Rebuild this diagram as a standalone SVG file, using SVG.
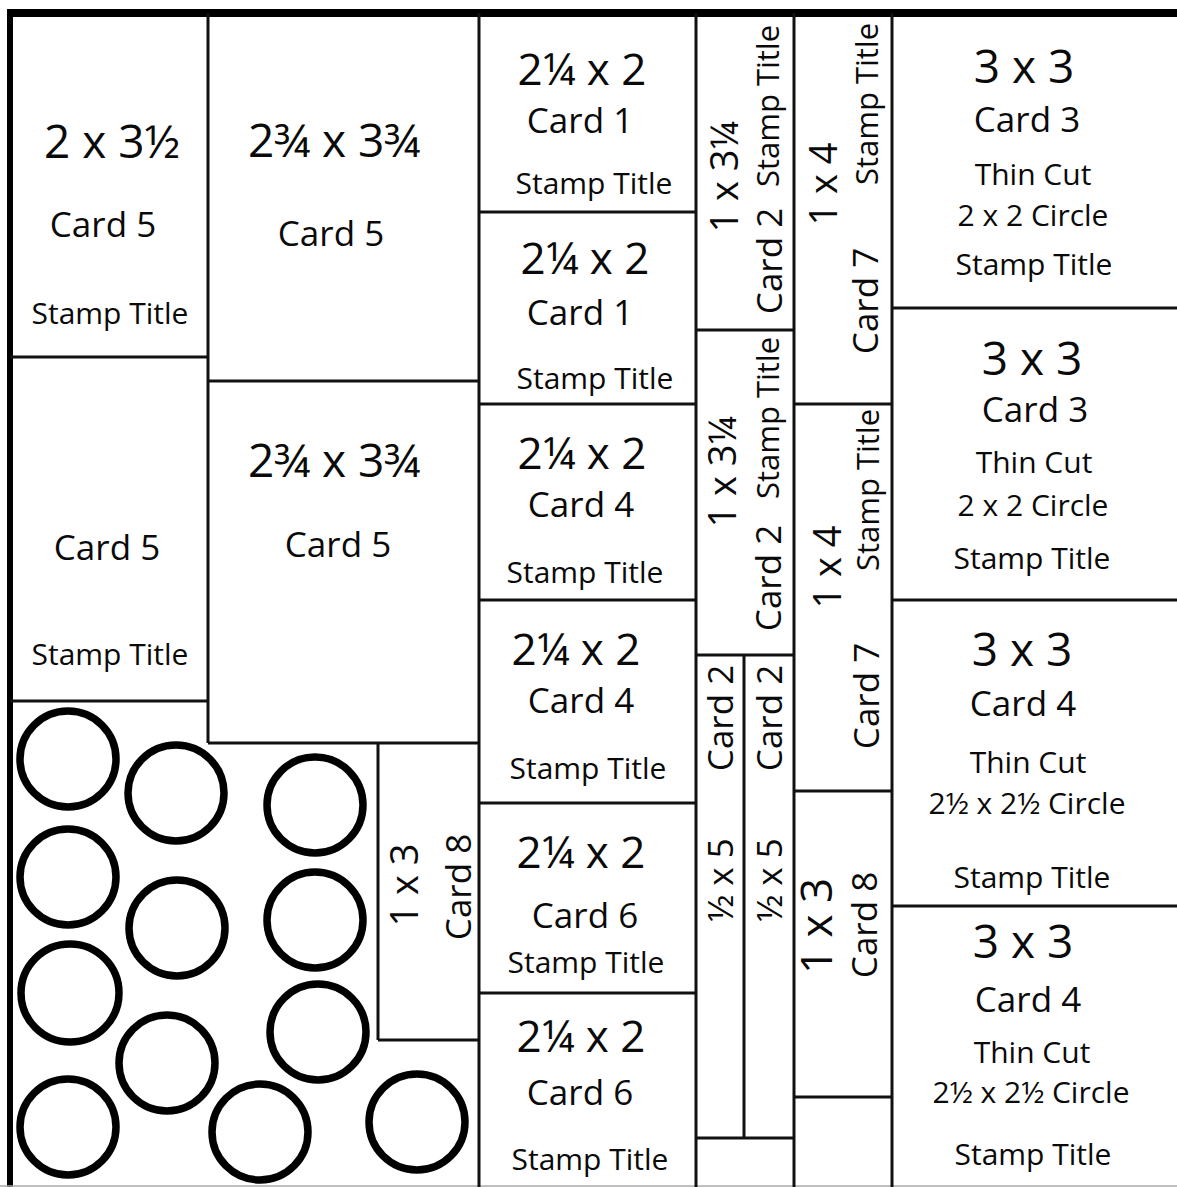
<svg xmlns="http://www.w3.org/2000/svg" width="1177" height="1187" viewBox="0 0 1177 1187">
<style>
  .ln{stroke:#111;stroke-width:3;fill:none}
  .ring{stroke:#000;stroke-width:7.5;fill:none}
  text{font-family:"Open Sans","Noto Sans",sans-serif;fill:#0a0a0a;text-anchor:middle}
  .big{font-size:46px}
  .med{font-size:44px}
  .mid{font-size:35px}
  .sm{font-size:30px}
  .rn{font-size:38px}
  .rs{font-size:31px}
</style>
<rect x="0" y="0" width="1177" height="1187" fill="#fff"/>
<g id="cut-lines">
  <rect x="7" y="9" width="1170" height="8" fill="#000"/>
  <rect x="7" y="9" width="6" height="1178" fill="#000"/>
  <line x1="0" y1="1186" x2="1177" y2="1186" stroke="#aaa" stroke-width="1.5"/>
  <line class="ln" x1="208" y1="13" x2="208" y2="743"/>
  <line class="ln" x1="479" y1="13" x2="479" y2="1187"/>
  <line class="ln" x1="378" y1="743" x2="378" y2="1040"/>
  <line class="ln" x1="696" y1="13" x2="696" y2="1187"/>
  <line class="ln" x1="744" y1="655" x2="744" y2="1138"/>
  <line class="ln" x1="794" y1="13" x2="794" y2="1187"/>
  <line class="ln" x1="892" y1="13" x2="892" y2="1187"/>
  <line class="ln" x1="10" y1="357" x2="208" y2="357"/>
  <line class="ln" x1="10" y1="701" x2="208" y2="701"/>
  <line class="ln" x1="208" y1="381" x2="479" y2="381"/>
  <line class="ln" x1="208" y1="743" x2="479" y2="743"/>
  <line class="ln" x1="378" y1="1040" x2="479" y2="1040"/>
  <line class="ln" x1="479" y1="212" x2="696" y2="212"/>
  <line class="ln" x1="479" y1="404" x2="696" y2="404"/>
  <line class="ln" x1="479" y1="600" x2="696" y2="600"/>
  <line class="ln" x1="479" y1="803" x2="696" y2="803"/>
  <line class="ln" x1="479" y1="993" x2="696" y2="993"/>
  <line class="ln" x1="696" y1="330" x2="794" y2="330"/>
  <line class="ln" x1="696" y1="655" x2="794" y2="655"/>
  <line class="ln" x1="696" y1="1138" x2="794" y2="1138"/>
  <line class="ln" x1="794" y1="404" x2="892" y2="404"/>
  <line class="ln" x1="794" y1="791" x2="892" y2="791"/>
  <line class="ln" x1="794" y1="1097" x2="892" y2="1097"/>
  <line class="ln" x1="892" y1="308" x2="1177" y2="308"/>
  <line class="ln" x1="892" y1="600" x2="1177" y2="600"/>
  <line class="ln" x1="892" y1="906" x2="1177" y2="906"/>
</g>
<g id="circles">
  <circle class="ring" cx="68" cy="759" r="48"/>
  <circle class="ring" cx="176" cy="793" r="48"/>
  <circle class="ring" cx="315" cy="805" r="48"/>
  <circle class="ring" cx="68" cy="877" r="48"/>
  <circle class="ring" cx="177" cy="928" r="48"/>
  <circle class="ring" cx="315" cy="920" r="48"/>
  <circle class="ring" cx="70" cy="993" r="49"/>
  <circle class="ring" cx="167" cy="1063" r="48"/>
  <circle class="ring" cx="318" cy="1032" r="48"/>
  <circle class="ring" cx="68" cy="1127" r="48"/>
  <circle class="ring" cx="260" cy="1132" r="48"/>
  <circle class="ring" cx="417" cy="1122" r="48"/>
</g>
<g id="card5-2x3half">
  <text class="big" x="112" y="158">2 x 3½</text>
  <text class="mid" x="103" y="237">Card 5</text>
  <text class="sm" x="110" y="324">Stamp Title</text>
</g>
<g id="card5-b">
  <text class="mid" x="107" y="560">Card 5</text>
  <text class="sm" x="110" y="665">Stamp Title</text>
</g>
<g id="card5-2x3q-a">
  <text class="big" x="334" y="157">2¾ x 3¾</text>
  <text class="mid" x="331" y="246">Card 5</text>
</g>
<g id="card5-2x3q-b">
  <text class="big" x="334" y="477">2¾ x 3¾</text>
  <text class="mid" x="338" y="557">Card 5</text>
</g>
<g id="card8-1x3-a">
  <text class="rn" transform="translate(418,885) rotate(-90)">1 x 3</text>
  <text class="mid" transform="translate(471,887) rotate(-90)">Card 8</text>
</g>
<g id="card1-a">
  <text class="med" x="582" y="85">2¼ x 2</text>
  <text class="mid" x="580" y="133">Card 1</text>
  <text class="sm" x="594" y="194">Stamp Title</text>
</g>
<g id="card1-b">
  <text class="med" x="585" y="274">2¼ x 2</text>
  <text class="mid" x="580" y="325">Card 1</text>
  <text class="sm" x="595" y="389">Stamp Title</text>
</g>
<g id="card4-a">
  <text class="med" x="582" y="469">2¼ x 2</text>
  <text class="mid" x="581" y="517">Card 4</text>
  <text class="sm" x="585" y="583">Stamp Title</text>
</g>
<g id="card4-b">
  <text class="med" x="576" y="665">2¼ x 2</text>
  <text class="mid" x="581" y="713">Card 4</text>
  <text class="sm" x="588" y="779">Stamp Title</text>
</g>
<g id="card6-a">
  <text class="med" x="581" y="868">2¼ x 2</text>
  <text class="mid" x="585" y="928">Card 6</text>
  <text class="sm" x="586" y="973">Stamp Title</text>
</g>
<g id="card6-b">
  <text class="med" x="581" y="1052">2¼ x 2</text>
  <text class="mid" x="580" y="1105">Card 6</text>
  <text class="sm" x="590" y="1170">Stamp Title</text>
</g>
<g id="card2-1x3q-a">
  <text class="rn" transform="translate(738,177) rotate(-90)">1 x 3¼</text>
  <text class="rs" transform="translate(779,106) rotate(-90)">Stamp Title</text>
  <text class="mid" transform="translate(782,261) rotate(-90)">Card 2</text>
</g>
<g id="card2-1x3q-b">
  <text class="rn" transform="translate(736,472) rotate(-90)">1 x 3¼</text>
  <text class="rs" transform="translate(779,418) rotate(-90)">Stamp Title</text>
  <text class="mid" transform="translate(781,578) rotate(-90)">Card 2</text>
</g>
<g id="card2-half-a">
  <text class="mid" transform="translate(733,718) rotate(-90)">Card 2</text>
  <text class="mid" transform="translate(733,880) rotate(-90)">½ x 5</text>
</g>
<g id="card2-half-b">
  <text class="mid" transform="translate(782,718) rotate(-90)">Card 2</text>
  <text class="mid" transform="translate(782,880) rotate(-90)">½ x 5</text>
</g>
<g id="card7-a">
  <text class="rn" transform="translate(837,184) rotate(-90)">1 x 4</text>
  <text class="rs" transform="translate(878,104) rotate(-90)">Stamp Title</text>
  <text class="mid" transform="translate(878,301) rotate(-90)">Card 7</text>
</g>
<g id="card7-b">
  <text class="rn" transform="translate(841,567) rotate(-90)">1 x 4</text>
  <text class="rs" transform="translate(879,490) rotate(-90)">Stamp Title</text>
  <text class="mid" transform="translate(879,696) rotate(-90)">Card 7</text>
</g>
<g id="card8-1x3-b">
  <text style="font-size:44px" transform="translate(832,926) rotate(-90)">1 x 3</text>
  <text class="mid" transform="translate(877,925) rotate(-90)">Card 8</text>
</g>
<g id="card3-a">
  <text class="big" x="1024" y="83">3 x 3</text>
  <text class="mid" x="1027" y="132">Card 3</text>
  <text class="sm" x="1033" y="185">Thin Cut</text>
  <text class="sm" x="1033" y="226">2 x 2 Circle</text>
  <text class="sm" x="1034" y="275">Stamp Title</text>
</g>
<g id="card3-b">
  <text class="big" x="1032" y="375">3 x 3</text>
  <text class="mid" x="1035" y="422">Card 3</text>
  <text class="sm" x="1034" y="473">Thin Cut</text>
  <text class="sm" x="1033" y="516">2 x 2 Circle</text>
  <text class="sm" x="1032" y="569">Stamp Title</text>
</g>
<g id="card4-3x3-a">
  <text class="big" x="1022" y="666">3 x 3</text>
  <text class="mid" x="1023" y="716">Card 4</text>
  <text class="sm" x="1028" y="773">Thin Cut</text>
  <text class="sm" x="1027" y="814">2½ x 2½ Circle</text>
  <text class="sm" x="1032" y="888">Stamp Title</text>
</g>
<g id="card4-3x3-b">
  <text class="big" x="1023" y="958">3 x 3</text>
  <text class="mid" x="1028" y="1012">Card 4</text>
  <text class="sm" x="1032" y="1063">Thin Cut</text>
  <text class="sm" x="1031" y="1103">2½ x 2½ Circle</text>
  <text class="sm" x="1033" y="1165">Stamp Title</text>
</g>
</svg>
